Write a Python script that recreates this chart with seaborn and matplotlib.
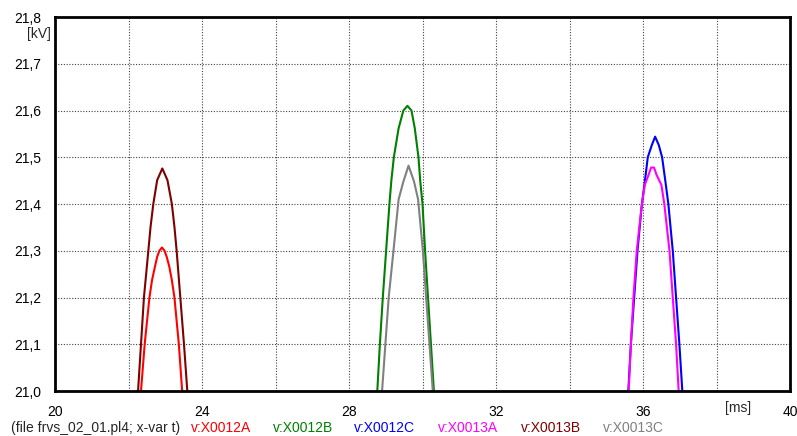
#!/usr/bin/env python3
import pandas as pd
import matplotlib
matplotlib.use("Agg")
import matplotlib.pyplot as plt
import seaborn as sns

# --- values (t in ms, v in kV) ---
t_x0012a = [22.34, 22.44, 22.57, 22.64, 22.72, 22.78, 22.84, 22.91, 22.98, 23.04, 23.11, 23.18, 23.25, 23.37, 23.46]
v_x0012a = [21.00, 21.10, 21.20, 21.237, 21.266, 21.287, 21.30, 21.307, 21.30, 21.287, 21.266, 21.237, 21.20, 21.10, 21.00]

t_x0012b = [28.77, 28.84, 28.92, 29.01, 29.10, 29.15, 29.22, 29.35, 29.48, 29.59, 29.70, 29.79, 29.89, 29.94, 30.00, 30.07, 30.15, 30.23, 30.31]
v_x0012b = [21.00, 21.10, 21.20, 21.30, 21.40, 21.448, 21.50, 21.562, 21.60, 21.61, 21.60, 21.562, 21.50, 21.448, 21.40, 21.30, 21.20, 21.10, 21.00]

t_x0012c = [35.60, 35.67, 35.76, 35.85, 35.97, 36.05, 36.13, 36.24, 36.33, 36.43, 36.52, 36.61, 36.69, 36.81, 36.90, 36.99, 37.07]
v_x0012c = [21.00, 21.10, 21.20, 21.30, 21.40, 21.448, 21.50, 21.526, 21.544, 21.526, 21.50, 21.448, 21.40, 21.30, 21.20, 21.10, 21.00]

t_x0013a = [35.61, 35.67, 35.74, 35.83, 35.97, 36.05, 36.15, 36.22, 36.30, 36.37, 36.50, 36.58, 36.72, 36.81, 36.90, 36.97]
v_x0013a = [21.00, 21.10, 21.20, 21.30, 21.40, 21.441, 21.462, 21.478, 21.478, 21.462, 21.441, 21.40, 21.30, 21.20, 21.10, 21.00]

t_x0013b = [22.26, 22.34, 22.42, 22.54, 22.60, 22.675, 22.78, 22.92, 23.06, 23.18, 23.25, 23.31, 23.41, 23.51, 23.60]
v_x0013b = [21.00, 21.10, 21.20, 21.30, 21.351, 21.40, 21.451, 21.476, 21.451, 21.40, 21.351, 21.30, 21.20, 21.10, 21.00]

t_x0013c = [28.90, 28.99, 29.08, 29.21, 29.35, 29.48, 29.62, 29.77, 29.88, 30.01, 30.10, 30.19, 30.28]
v_x0013c = [21.00, 21.10, 21.20, 21.30, 21.41, 21.448, 21.482, 21.448, 21.41, 21.30, 21.20, 21.10, 21.00]

series_names = ["v:X0012A", "v:X0012B", "v:X0012C", "v:X0013A", "v:X0013B", "v:X0013C"]
series_colors = ["#ff0000", "#008000", "#0000ff", "#ff00ff", "#800000", "#808080"]

x_ticks = [20, 22, 24, 26, 28, 30, 32, 34, 36, 38, 40]
x_labels = ["20", "", "24", "", "28", "", "32", "", "36", "", "40"]
y_ticks = [21.0, 21.1, 21.2, 21.3, 21.4, 21.5, 21.6, 21.7, 21.8]

frames = []
for name, t, v in zip(series_names,
                      [t_x0012a, t_x0012b, t_x0012c, t_x0013a, t_x0013b, t_x0013c],
                      [v_x0012a, v_x0012b, v_x0012c, v_x0013a, v_x0013b, v_x0013c]):
    frames.append(pd.DataFrame({"t": t, "v": v, "series": name}))
df = pd.concat(frames, ignore_index=True)

sns.set_theme(style="white")
plt.rcParams["font.family"] = ["Liberation Sans", "DejaVu Sans"]
fs = 10

fig = plt.figure(figsize=(7.97, 4.36), dpi=100)
ax = fig.add_axes([55 / 797, 1 - 391 / 436, 735 / 797, 374 / 436])

sns.lineplot(data=df, x="t", y="v", hue="series", palette=dict(zip(series_names, series_colors)),
             estimator=None, sort=False, units="series", legend=False, linewidth=1.5, ax=ax)

ax.set_xlim(20, 40)
ax.set_ylim(21.0, 21.8)
ax.set_xticks(x_ticks)
ax.set_xticklabels(x_labels)
ax.set_yticks(y_ticks)
ax.set_yticklabels([f"{y:.1f}".replace(".", ",") for y in y_ticks])
ax.set_xlabel("")
ax.set_ylabel("")

ax.grid(True, color="#444444", linestyle=(0, (1, 1.5)), linewidth=0.8)
for sp in ax.spines.values():
    sp.set_visible(True)
    sp.set_color("black")
    sp.set_linewidth(2)
ax.tick_params(axis="both", direction="out", length=7, width=2, colors="black",
               labelsize=fs, pad=3)

fig.text(51 / 797, 1 - 34 / 436, "[kV]", ha="right", va="center", fontsize=fs)
fig.text(738 / 797, 1 - 408 / 436, "[ms]", ha="center", va="center", fontsize=fs)

fig.text(11 / 797, 1 - 428 / 436, "(file frvs_02_01.pl4; x-var t)", ha="left", va="center", fontsize=fs)
legend_x = [191, 273, 354, 438, 521, 603]
for name, col, lx in zip(series_names, series_colors, legend_x):
    fig.text(lx / 797, 1 - 428 / 436, name, ha="left", va="center", fontsize=fs, color=col)

fig.savefig("out.png", dpi=100)
